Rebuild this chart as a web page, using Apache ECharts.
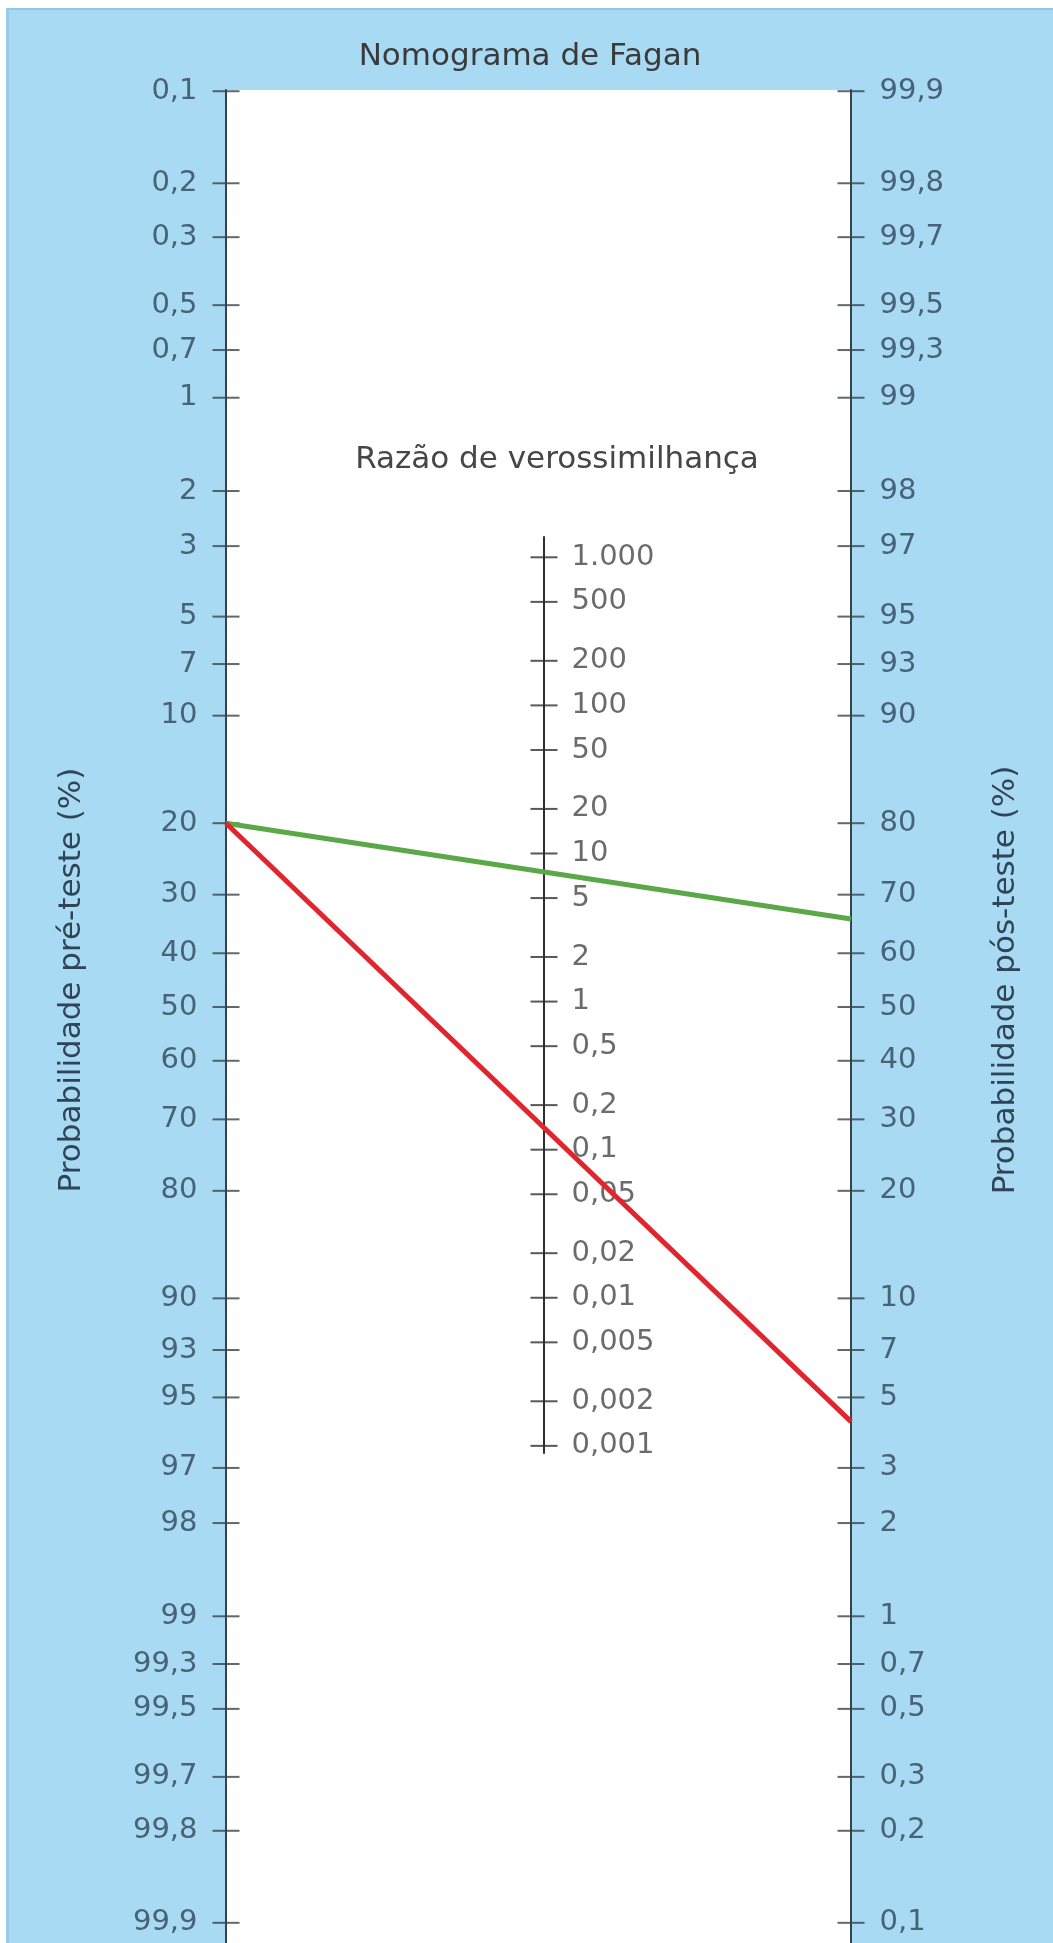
<!DOCTYPE html>
<html>
<head>
<meta charset="utf-8">
<script src="https://cdn.jsdelivr.net/npm/echarts@6/dist/echarts.min.js"></script>
<style>
html,body{margin:0;padding:0;background:#ffffff;}
#c{width:1053px;height:1943px;}
</style>
</head>
<body>
<div id="c"></div>
<script>
// ---- data ----
const preTicks = [0.1, 0.2, 0.3, 0.5, 0.7, 1, 2, 3, 5, 7, 10, 20, 30, 40, 50, 60, 70, 80, 90, 93, 95, 97, 98, 99, 99.3, 99.5, 99.7, 99.8, 99.9];
const postTicks = [99.9, 99.8, 99.7, 99.5, 99.3, 99, 98, 97, 95, 93, 90, 80, 70, 60, 50, 40, 30, 20, 10, 7, 5, 3, 2, 1, 0.7, 0.5, 0.3, 0.2, 0.1];
const lrTicks = [1000, 500, 200, 100, 50, 20, 10, 5, 2, 1, 0.5, 0.2, 0.1, 0.05, 0.02, 0.01, 0.005, 0.002, 0.001];
const lineNames = ['Teste positivo', 'Teste negativo'];
const preTest = [20, 20];
const postTest = [66, 4.2];

const titleText = 'Nomograma de Fagan';
const lrTitle = 'Razão de verossimilhança';
const preTitle = 'Probabilidade pré-teste (%)';
const postTitle = 'Probabilidade pós-teste (%)';

// ---- helpers (scale transform for the probability axes) ----
function logit(p) { return Math.log(p / (100 - p)); }
function fmt(v) {
  if (v >= 1000) return '1.000';
  return String(v).replace('.', ',');
}

const AXIS = '#36434e';
const BLUE_TXT = '#2f4457';
const GREY_TXT = '#464646';
const FONT = '"DejaVu Sans"';
const FS = 29;
const PRE_MIN = -6.916, PRE_MAX = 7.059;   // logit extent of the probability axes
const LR_MIN = 0.000895, LR_MAX = 1371;    // extent of the likelihood-ratio axis

const chart = echarts.init(document.getElementById('c'), null, {renderer: 'canvas'});

const lineColors = ['#5ba848', '#e1252e'];

const option = {
  animation: false,
  backgroundColor: 'transparent',
  textStyle: {fontFamily: FONT},
  graphic: [
    {type: 'rect', z: -20, shape: {x: 6, y: 8, width: 1047, height: 1935}, style: {fill: '#a9daf3'}},
    {type: 'rect', z: -19, shape: {x: 6, y: 8, width: 1047, height: 2}, style: {fill: '#93c6e2'}},
    {type: 'rect', z: -19, shape: {x: 6, y: 8, width: 3, height: 1935}, style: {fill: '#9acbe6'}},
    {type: 'rect', z: -18, shape: {x: 227, y: 90, width: 624, height: 1853}, style: {fill: '#ffffff'}},
    {type: 'text', z: 10, x: 530, y: 57, style: {text: titleText, align: 'center', verticalAlign: 'middle', font: '31px ' + FONT, fill: '#3a3a3a'}},
    {type: 'text', z: 10, x: 557, y: 460, style: {text: lrTitle, align: 'center', verticalAlign: 'middle', font: '31px ' + FONT, fill: GREY_TXT}},
    {type: 'text', z: 10, x: 72, y: 980, rotation: Math.PI / 2, style: {text: preTitle, align: 'center', verticalAlign: 'middle', font: '31px ' + FONT, fill: BLUE_TXT}},
    {type: 'text', z: 10, x: 1006, y: 980, rotation: Math.PI / 2, style: {text: postTitle, align: 'center', verticalAlign: 'middle', font: '31px ' + FONT, fill: BLUE_TXT}}
  ],
  grid: [
    {left: 226, right: 202, top: 90, bottom: 0, show: false},
    {left: 544, width: 1, top: 537, bottom: 490, show: false}
  ],
  xAxis: [
    {gridIndex: 0, type: 'value', min: 0, max: 1, show: false},
    {gridIndex: 1, type: 'value', min: 0, max: 1, show: false}
  ],
  yAxis: [
    {gridIndex: 0, type: 'value', position: 'left', inverse: true, min: PRE_MIN, max: PRE_MAX,
     axisLine: {show: true, onZero: false, lineStyle: {color: AXIS, width: 2}},
     axisTick: {show: false}, axisLabel: {show: false}, splitLine: {show: false}},
    {gridIndex: 0, type: 'value', position: 'right', min: -PRE_MAX, max: -PRE_MIN,
     axisLine: {show: true, onZero: false, lineStyle: {color: AXIS, width: 2}},
     axisTick: {show: false}, axisLabel: {show: false}, splitLine: {show: false}},
    {gridIndex: 1, type: 'log', logBase: 10, position: 'left', min: LR_MIN, max: LR_MAX,
     axisLine: {show: true, onZero: false, lineStyle: {color: '#2e2e2e', width: 2}},
     axisTick: {show: false}, axisLabel: {show: false}, splitLine: {show: false}}
  ],
  series: [
    {
      type: 'scatter', name: 'pre', xAxisIndex: 0, yAxisIndex: 0, clip: false, silent: true, z: 3,
      data: preTicks.map(p => [0, logit(p)]),
      symbol: 'rect', symbolSize: [27, 2], itemStyle: {color: AXIS},
      label: {show: true, position: 'left', distance: 15, color: BLUE_TXT, fontSize: FS, fontFamily: FONT,
              formatter: d => fmt(preTicks[d.dataIndex])}
    },
    {
      type: 'scatter', name: 'post', xAxisIndex: 0, yAxisIndex: 1, clip: false, silent: true, z: 3,
      data: postTicks.map(p => [1, logit(p)]),
      symbol: 'rect', symbolSize: [27, 2], itemStyle: {color: AXIS},
      label: {show: true, position: 'right', distance: 15, color: BLUE_TXT, fontSize: FS, fontFamily: FONT,
              formatter: d => fmt(postTicks[d.dataIndex])}
    },
    {
      type: 'scatter', name: 'lr', xAxisIndex: 1, yAxisIndex: 2, clip: false, silent: true, z: 3,
      data: lrTicks.map(v => [0, v]),
      symbol: 'rect', symbolSize: [27, 2], itemStyle: {color: '#2e2e2e'},
      label: {show: true, position: 'right', distance: 14, color: GREY_TXT, fontSize: FS, fontFamily: FONT,
              formatter: d => fmt(lrTicks[d.dataIndex])}
    }
  ].concat(lineNames.map((n, i) => ({
    type: 'line', name: n, xAxisIndex: 0, yAxisIndex: 0, clip: false, silent: true, z: 6,
    showSymbol: false, symbol: 'none',
    data: [[0, logit(preTest[i])], [1, -logit(postTest[i])]],
    lineStyle: {color: lineColors[i], width: 5}
  })))
};

chart.setOption(option);
</script>
</body>
</html>
